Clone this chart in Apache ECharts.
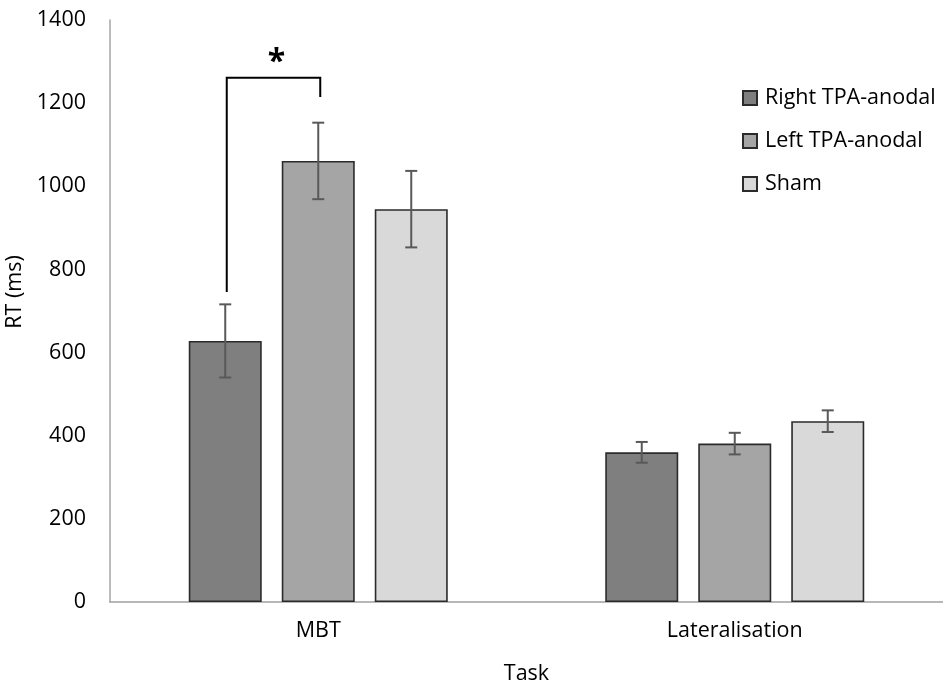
<!DOCTYPE html>
<html>
<head>
<meta charset="utf-8">
<script src="https://cdn.jsdelivr.net/npm/echarts@6/dist/echarts.min.js"></script>
<style>
  html, body { margin: 0; padding: 0; background: #fff; }
  #chart { width: 943px; height: 686px; }
</style>
</head>
<body>
<div id="chart"></div>
<script>
// Task categories and reaction times (ms) per stimulation condition
var categories = ['MBT', 'Lateralisation'];
var seriesNames = ['Right TPA-anodal', 'Left TPA-anodal', 'Sham'];
var rightMeans = [628, 360];
var rightErrors = [88, 25];
var leftMeans = [1061, 381];
var leftErrors = [92, 26];
var shamMeans = [945, 435];
var shamErrors = [92, 26];
var yTicks = [0, 200, 400, 600, 800, 1000, 1200, 1400];

// Significance bracket between Right and Left TPA-anodal on MBT
var bracketTop = 1261;
var bracketLeftEnd = 746;
var bracketRightEnd = 1215;
var starLevel = 1311;

var means = [rightMeans, leftMeans, shamMeans];
var errors = [rightErrors, leftErrors, shamErrors];
var fills = ['#7f7f7f', '#a5a5a5', '#d9d9d9'];

var BAR_W = 73;
var BAR_GAP = 20;
var FONT = '"Open Sans", sans-serif';
var FS = 21.5;

function barOffset(i) {
  return (i - 1) * (BAR_W + BAR_GAP);
}

var errorData = [];
for (var s = 0; s < 3; s++) {
  for (var c = 0; c < categories.length; c++) {
    errorData.push([c, means[s][c], errors[s][c], s]);
  }
}

var chart = echarts.init(document.getElementById('chart'), null, { renderer: 'canvas' });

var barSeries = seriesNames.map(function (name, i) {
  return {
    name: name,
    type: 'bar',
    data: means[i],
    barWidth: BAR_W,
    barGap: (BAR_GAP / BAR_W * 100).toFixed(1) + '%',
    itemStyle: { color: fills[i], borderColor: '#2b2b2b', borderWidth: 1.6 },
    emphasis: { disabled: true },
    z: 2
  };
});

var errorSeries = {
  type: 'custom',
  name: 'errors',
  silent: true,
  data: errorData,
  z: 5,
  renderItem: function (params, api) {
    var c = api.value(0), m = api.value(1), e = api.value(2), s = api.value(3);
    var center = api.coord([c, m]);
    var x = center[0] + barOffset(s);
    var yHi = api.coord([c, m + e])[1];
    var yLo = api.coord([c, m - e])[1];
    var cap = 6;
    var style = { stroke: '#595959', lineWidth: 2 };
    return {
      type: 'group',
      children: [
        { type: 'line', shape: { x1: x, y1: yHi, x2: x, y2: yLo }, style: style },
        { type: 'line', shape: { x1: x - cap, y1: yHi, x2: x + cap, y2: yHi }, style: style },
        { type: 'line', shape: { x1: x - cap, y1: yLo, x2: x + cap, y2: yLo }, style: style }
      ]
    };
  }
};

var bracketSeries = {
  type: 'custom',
  name: 'bracket',
  silent: true,
  data: [[0, bracketTop, bracketLeftEnd, bracketRightEnd, starLevel]],
  z: 6,
  renderItem: function (params, api) {
    var c = api.value(0);
    var cx = api.coord([c, 0])[0];
    var x1 = cx + barOffset(0) + 1.5;
    var x2 = cx + barOffset(1) + 2;
    var yTop = api.coord([c, api.value(1)])[1];
    var yL = api.coord([c, api.value(2)])[1];
    var yR = api.coord([c, api.value(3)])[1];
    var yStar = api.coord([c, api.value(4)])[1];
    return {
      type: 'group',
      children: [
        {
          type: 'polyline',
          shape: { points: [[x1, yL], [x1, yTop], [x2, yTop], [x2, yR]] },
          style: { stroke: '#000', lineWidth: 2, fill: null }
        },
        {
          type: 'text',
          style: {
            x: (x1 + x2) / 2 + 3, y: yStar + 6,
            text: '*', fill: '#000',
            font: 'bold 32px ' + FONT,
            textAlign: 'center', textVerticalAlign: 'middle'
          }
        }
      ]
    };
  }
};

chart.setOption({
  animation: false,
  backgroundColor: '#fff',
  grid: { left: 110, right: 0, top: 20, bottom: 84, containLabel: false, outerBoundsMode: 'none' },
  legend: {
    orient: 'vertical',
    left: 737,
    top: 79,
    itemWidth: 14,
    itemHeight: 14,
    itemGap: 15,
    icon: 'rect',
    data: seriesNames,
    textStyle: { fontFamily: FONT, fontSize: FS, color: '#000', lineHeight: 28, padding: [0, 0, 0, 3] },
    selectedMode: false
  },
  xAxis: {
    type: 'category',
    data: categories,
    name: 'Task',
    nameLocation: 'middle',
    nameGap: 61,
    nameTextStyle: { fontFamily: FONT, fontSize: FS, color: '#000' },
    axisLine: { lineStyle: { color: '#a0a0a0', width: 1.5 } },
    axisTick: { show: false },
    axisLabel: { fontFamily: FONT, fontSize: FS, color: '#000', margin: 18 }
  },
  yAxis: {
    type: 'value',
    min: yTicks[0],
    max: yTicks[yTicks.length - 1],
    interval: yTicks[1] - yTicks[0],
    name: 'RT (ms)',
    nameLocation: 'middle',
    nameGap: 73,
    nameRotate: 90,
    nameTextStyle: { fontFamily: FONT, fontSize: FS, color: '#000', padding: [0, 0, 0, 38] },
    axisLine: { show: true, lineStyle: { color: '#a6a6a6', width: 1.5 } },
    axisTick: { show: false },
    splitLine: { show: false },
    axisLabel: {
      fontFamily: FONT, fontSize: FS, color: '#000', margin: 24,
      formatter: function (v) { return String(v); }
    }
  },
  series: barSeries.concat([errorSeries, bracketSeries])
});
</script>
</body>
</html>
